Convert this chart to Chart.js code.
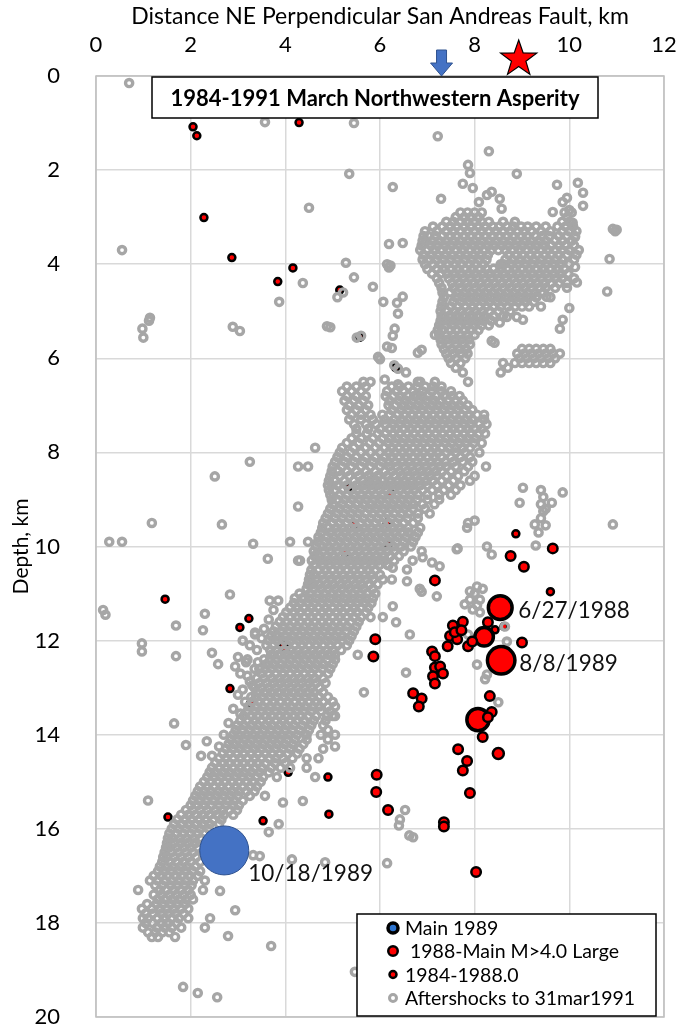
<!DOCTYPE html>
<html><head><meta charset="utf-8">
<script src="https://cdn.jsdelivr.net/npm/chart.js@4.4.0/dist/chart.umd.min.js"></script>
<style>html,body{margin:0;padding:0;background:#fff;overflow:hidden;}canvas{display:block;}</style>
</head><body>
<canvas id="c" width="678" height="1025"></canvas>
<script>
// ---------------- data ----------------
const xTicks = [0, 2, 4, 6, 8, 10, 12];
const yTicks = [0, 2, 4, 6, 8, 10, 12, 14, 16, 18, 20];
const xTitle = 'Distance NE Perpendicular San Andreas Fault, km';
const yTitle = 'Depth, km';
const chartTitle = '1984-1991 March Northwestern Asperity';

const seriesNames = ['Main 1989', ' 1988-Main M>4.0 Large', '1984-1988.0', 'Aftershocks to 31mar1991'];

// Main shock 10/18/1989
const mainX = [2.71];
const mainY = [16.46];
const mainLabel = ['10/18/1989'];

// 1988-Main M>4.0 large events
const largeX = [8.54, 8.56, 8.20, 8.07, 8.76, 9.65, 9.04, 7.16, 9.00, 7.75, 7.54, 7.48, 7.63, 7.43, 7.86, 8.28, 7.10, 7.16, 7.16, 7.27, 7.33, 7.12, 7.16, 6.70, 6.88, 6.82, 8.32, 8.36, 8.28, 8.17, 8.50, 7.65, 7.84, 7.75, 7.90, 5.93, 5.92, 6.17, 7.35, 7.35, 8.03, 5.90, 5.86, 7.58, 7.72, 7.95];
const largeY = [11.30, 12.42, 11.92, 13.68, 10.20, 10.04, 10.43, 10.72, 12.04, 11.60, 11.68, 11.90, 11.97, 12.12, 12.12, 11.61, 12.23, 12.33, 12.57, 12.55, 12.70, 12.76, 12.91, 13.12, 13.23, 13.40, 13.18, 13.52, 13.63, 14.05, 14.40, 14.31, 14.56, 14.76, 15.24, 14.85, 15.22, 15.60, 15.86, 15.95, 16.92, 11.97, 12.34, 11.82, 11.78, 12.02];
const largeMag = [4.95, 5.2, 4.6, 4.85, 4.0, 4.0, 4.0, 4.0, 4.0, 4.0, 4.0, 4.0, 4.0, 4.0, 4.0, 4.0, 4.0, 4.0, 4.0, 4.0, 4.0, 4.0, 4.0, 4.0, 4.0, 4.0, 4.0, 4.0, 4.0, 4.0, 4.1, 4.0, 4.0, 4.0, 4.0, 4.0, 4.0, 4.0, 4.0, 4.0, 4.0, 4.0, 4.0, 4.0, 4.0, 4.0];
const largeLabels = [[0, '6/27/1988'], [1, '8/8/1989']];

// 1984-1988 events
const smallX = [2.05, 2.13, 4.29, 2.28, 2.87, 4.16, 3.84, 5.15, 5.58, 6.33, 5.33, 6.23, 5.45, 6.15, 6.17, 5.26, 1.46, 3.23, 3.04, 3.95, 4.00, 2.83, 3.27, 4.06, 4.90, 1.52, 3.53, 4.92, 8.87, 9.60, 8.62, 8.43];
const smallY = [1.08, 1.27, 0.99, 3.01, 3.86, 4.08, 4.37, 4.55, 5.55, 6.20, 8.75, 8.87, 9.53, 9.50, 9.96, 10.13, 11.12, 11.53, 11.72, 12.10, 12.17, 13.02, 13.33, 14.80, 14.90, 15.75, 15.83, 15.69, 9.73, 10.96, 11.70, 11.77];

// Aftershocks: isolated events [x, depth]
const aftershockIsolated = [
[0.7,0.15],[3.57,0.98],[5.45,1.0],[7.22,1.28],[8.3,1.6],[7.86,1.89],[7.9,2.06],[5.35,2.08],[8.89,2.08],[10.18,2.27],[7.75,2.29],[9.74,2.31],[6.27,2.36],[7.96,2.38],[8.36,2.46],[10.29,2.48],[8.26,2.53],[9.95,2.59],[7.29,2.61],[8.53,2.61],[8.09,2.68],[9.86,2.68],[10.29,2.76],[4.5,2.8],[8.57,2.82],[9.65,2.89],[10.0,2.85],[10.07,3.12],[10.92,3.25],[10.97,3.3],[11.0,3.27],[10.12,3.42],[6.19,3.57],[6.48,3.55],[0.55,3.7],[10.85,3.89],[5.28,3.97],[6.15,4.0],[6.22,4.03],[6.19,4.07],[10.12,4.06],[5.45,4.28],[4.37,4.4],[10.16,4.39],[5.85,4.48],[10.8,4.58],[6.48,4.69],[9.31,4.69],[9.52,4.69],[5.1,4.7],[5.22,4.6],[3.87,4.8],[6.07,4.8],[6.36,4.82],[10.0,4.93],[6.38,5.05],[8.68,5.12],[8.89,5.12],[1.14,5.14],[1.12,5.2],[9.02,5.18],[9.86,5.18],[8.53,5.24],[4.88,5.32],[4.95,5.34],[2.89,5.33],[0.98,5.37],[6.31,5.37],[9.8,5.37],[3.04,5.42],[7.16,5.5],[6.27,5.52],[5.51,5.56],[5.6,5.52],[1.0,5.56],[8.36,5.63],[8.42,5.67],[6.15,5.75],[6.25,5.78],[6.88,5.82],[6.8,5.88],[5.96,5.97],[6.0,6.02],[6.3,6.15],[6.38,6.22],[6.1,6.45],[6.38,6.55],
[3.25,8.2],[2.51,8.51],[4.27,9.15],[2.66,9.53],[1.18,9.5],[0.28,9.9],[0.55,9.9],[3.32,9.94],[3.63,10.26],[4.31,10.3],[2.83,11.02],[3.67,11.15],[0.15,11.35],[0.2,11.45],[2.3,11.43],[2.26,11.78],[1.69,11.68],[3.36,11.83],[3.8,11.9],[0.97,12.06],[0.97,12.23],[1.69,12.33],[2.45,12.26],[2.58,12.5],[2.94,12.55],[3.17,12.46],[3.42,12.46],[3.36,11.87],[3.1,13.04],[3.25,12.87],[1.65,13.76],[1.9,14.22],[2.34,14.14],[2.22,14.45],[1.1,15.4],
[10.92,9.53],[9.86,8.85],[9.02,8.75],[8.95,9.07],[9.63,9.07],[9.27,9.53],[9.29,9.98],[8.36,10.17],[8.26,10.0],[7.64,10.04],[8.0,9.45],[7.84,9.6],[9.4,8.8],[9.45,8.95],[9.4,9.1],[9.45,9.25],[9.4,9.4],[9.5,9.55],[9.35,9.7],[9.5,9.2],
[7.62,10.06],[6.9,10.23],[7.1,10.34],[7.26,10.42],[6.15,10.38],[6.27,10.45],[6.57,10.49],[6.06,10.7],[6.57,10.74],[6.88,10.96],[7.2,11.06],[6.27,11.27],[6.06,11.5],[6.34,11.61],[6.63,11.87],[6.55,12.68],[8.05,10.85],[7.9,11.13],[8.11,11.13],[7.96,11.34],[7.79,11.23],[8.11,11.4],[8.0,11.0],[7.9,10.95],[8.05,11.25],[7.69,11.76],[7.86,11.87],[8.64,11.7],[8.68,12.02],[8.64,12.19],[8.05,12.51],[8.26,12.72],[8.22,12.82],[8.5,13.31],[8.17,10.9],
[5.05,13.6],[5.05,14.0],[5.05,14.25],[6.53,15.6],[6.42,15.8],[6.4,15.93],[6.62,16.14],[6.7,16.18],[6.15,16.73],[4.14,16.65],[4.84,16.71],[3.32,16.56],[3.46,16.58],[5.47,19.04],[3.7,18.49],[1.84,19.36],[2.15,19.49],[2.56,19.58],[2.79,18.28],[2.94,17.73],[2.62,17.32],[4.37,15.41],[3.95,15.44],[3.86,15.9],[3.65,16.07],
[3.1,12.0],[3.25,12.1],[3.4,12.2],[3.0,12.35],[3.2,12.4],[3.35,12.6],[3.05,12.7],[3.2,12.75],[3.3,12.95],[3.0,13.15],[3.15,13.3],[2.9,13.45],[3.05,13.55],[3.5,11.95],[3.55,11.75],[3.65,11.55],[3.75,11.35],[3.85,11.15],[2.8,13.75],[2.7,14.0],[2.6,14.25],[2.45,14.45],[8.2,7.2],[8.25,7.4],[8.22,7.6],[8.15,7.8],[8.1,8.0]
];

// Aftershocks: dense upper (NE) cluster, rows [depth, x, x, ...]
const aftershockRowsUpper = [
[2.9, 7.7, 7.85, 8.0, 8.15, 9.9, 10.05],
[3.0, 7.6, 7.78, 7.92, 8.08, 9.95],
[3.1, 7.4, 7.55, 7.7, 7.85, 8.0, 8.15, 8.3, 8.6, 8.85, 9.85, 10.0],
[3.2, 7.12, 7.32, 7.48, 7.62, 7.78, 7.92, 8.08, 8.22, 8.38, 8.52, 8.68, 8.82, 8.98, 9.12, 9.3, 9.5, 9.75, 9.92, 10.08],
[3.3, 6.95, 7.2, 7.4, 7.55, 7.7, 7.85, 8.0, 8.15, 8.3, 8.45, 8.6, 8.75, 8.9, 9.05, 9.2, 9.4, 9.6, 9.85, 10.0, 10.15],
[3.4, 6.92, 7.02, 7.18, 7.32, 7.48, 7.62, 7.78, 7.92, 8.08, 8.22, 8.38, 8.52, 8.68, 8.82, 8.98, 9.12, 9.28, 9.42, 9.58, 9.78, 9.95, 10.12],
[3.5, 6.9, 7.1, 7.25, 7.4, 7.55, 7.7, 7.85, 8.0, 8.15, 8.3, 8.45, 8.6, 8.75, 8.9, 9.05, 9.2, 9.35, 9.5, 9.7, 9.85, 10.05],
[3.6, 6.88, 7.08, 7.22, 7.38, 7.52, 7.68, 7.82, 7.98, 8.12, 8.28, 8.42, 8.58, 8.72, 8.88, 9.02, 9.18, 9.32, 9.48, 9.62, 9.78, 9.92, 10.1],
[3.7, 6.85, 7.0, 7.15, 7.3, 7.45, 7.6, 7.75, 7.9, 8.05, 8.2, 8.35, 8.5, 8.65, 8.8, 8.95, 9.1, 9.25, 9.4, 9.55, 9.7, 9.85, 10.0, 10.2],
[3.8, 6.92, 7.08, 7.22, 7.38, 7.52, 7.68, 7.82, 7.98, 8.12, 8.28, 8.72, 8.88, 9.02, 9.18, 9.32, 9.48, 9.62, 9.78, 9.95, 10.15],
[3.9, 6.9, 7.05, 7.2, 7.35, 7.5, 7.65, 7.8, 7.95, 8.1, 8.25, 8.65, 8.8, 8.95, 9.1, 9.25, 9.4, 9.55, 9.7, 9.85, 10.1],
[4.0, 6.95, 7.12, 7.28, 7.42, 7.58, 7.72, 7.88, 8.02, 8.18, 8.55, 8.62, 8.78, 8.92, 9.08, 9.22, 9.38, 9.52, 9.68, 9.82, 10.0],
[4.1, 7.0, 7.2, 7.35, 7.5, 7.65, 7.8, 7.95, 8.1, 8.25, 8.4, 8.55, 8.7, 8.85, 9.0, 9.15, 9.3, 9.45, 9.6, 9.75, 9.9],
[4.2, 7.1, 7.28, 7.42, 7.58, 7.72, 7.88, 8.02, 8.18, 8.32, 8.48, 8.62, 8.78, 8.92, 9.08, 9.22, 9.38, 9.52, 9.68, 9.82, 9.98],
[4.3, 7.2, 7.45, 7.6, 7.75, 7.9, 8.05, 8.2, 8.35, 8.5, 8.65, 8.8, 8.95, 9.1, 9.25, 9.4, 9.55, 9.7, 9.85, 10.1],
[4.4, 7.25, 7.52, 7.68, 7.82, 7.98, 8.12, 8.28, 8.42, 8.58, 8.72, 8.88, 9.02, 9.18, 9.32, 9.48, 9.62, 9.78, 9.95],
[4.5, 7.3, 7.55, 7.7, 7.85, 8.0, 8.15, 8.3, 8.45, 8.6, 8.75, 8.9, 9.05, 9.2, 9.35, 9.5, 9.7, 9.95],
[4.6, 7.32, 7.48, 7.62, 7.78, 7.92, 8.08, 8.22, 8.38, 8.52, 8.68, 8.82, 8.98, 9.12, 9.28, 9.45],
[4.7, 7.35, 7.6, 7.75, 7.9, 8.05, 8.2, 8.35, 8.5, 8.65, 8.8, 8.95, 9.1, 9.3, 9.6],
[4.8, 7.32, 7.55, 7.72, 7.88, 8.02, 8.18, 8.32, 8.48, 8.62, 8.78, 8.92, 9.08, 9.25],
[4.9, 7.3, 7.5, 7.65, 7.8, 7.95, 8.1, 8.25, 8.4, 8.55, 8.7, 8.85, 9.0, 9.15, 9.4],
[5.0, 7.28, 7.42, 7.58, 7.72, 7.88, 8.02, 8.18, 8.32, 8.5, 8.75],
[5.1, 7.3, 7.45, 7.6, 7.75, 7.9, 8.05, 8.2, 8.4, 8.6],
[5.2, 7.28, 7.42, 7.58, 7.72, 7.88, 8.02, 8.18, 8.35],
[5.3, 7.25, 7.4, 7.55, 7.7, 7.85, 8.0, 8.15, 8.3],
[5.4, 7.22, 7.32, 7.48, 7.62, 7.78, 7.92, 8.08],
[5.5, 7.25, 7.4, 7.55, 7.7, 7.85, 8.0],
[5.6, 7.28, 7.42, 7.58, 7.72, 7.88],
[5.7, 7.3, 7.45, 7.6, 7.75, 7.9],
[5.8, 7.35, 7.52, 7.68, 7.82, 9.0, 9.15, 9.3, 9.45, 9.6],
[5.9, 7.4, 7.55, 7.7, 7.85, 8.9, 9.05, 9.2, 9.35, 9.5, 9.65, 9.8],
[6.0, 7.45, 7.62, 7.8, 8.95, 9.1, 9.25, 9.4, 9.55, 9.7],
[6.1, 7.5, 7.7, 8.6, 8.85, 9.0, 9.15, 9.3, 9.45, 9.6],
[6.2, 7.6, 8.7],
[6.3, 6.55, 7.75, 8.55]
];

// Aftershocks: main dipping band, rows [depth, x, x, ...]
const aftershockRowsBand = [
[6.5, 5.65, 5.8, 6.8, 6.85, 7.16, 7.86],
[6.6, 5.3, 5.5, 5.7, 6.25, 6.42, 6.6, 6.78, 6.95, 7.12, 7.3],
[6.7, 5.2, 5.4, 5.6, 6.15, 6.35, 6.5, 6.7, 6.9, 7.1, 7.3, 7.5],
[6.8, 5.3, 5.5, 5.7, 6.12, 6.28, 6.42, 6.58, 6.72, 6.88, 7.02, 7.18, 7.35, 7.52, 7.68],
[6.9, 5.25, 5.45, 5.65, 6.2, 6.4, 6.55, 6.7, 6.85, 7.0, 7.15, 7.3, 7.45, 7.6, 7.75],
[7.0, 5.35, 5.55, 5.75, 6.18, 6.32, 6.48, 6.62, 6.78, 6.92, 7.08, 7.22, 7.38, 7.52, 7.68, 7.85],
[7.1, 5.3, 5.5, 5.7, 6.25, 6.45, 6.6, 6.75, 6.9, 7.05, 7.2, 7.35, 7.5, 7.65, 7.8, 7.95],
[7.2, 5.4, 5.6, 5.8, 6.05, 6.2, 6.38, 6.52, 6.68, 6.82, 6.98, 7.12, 7.28, 7.42, 7.58, 7.72, 7.88, 8.05],
[7.3, 5.35, 5.6, 5.85, 6.1, 6.3, 6.45, 6.6, 6.75, 6.9, 7.05, 7.2, 7.35, 7.5, 7.65, 7.8, 7.95, 8.2],
[7.4, 5.45, 5.7, 5.92, 6.12, 6.28, 6.42, 6.58, 6.72, 6.88, 7.02, 7.18, 7.32, 7.48, 7.62, 7.78, 7.92, 8.1],
[7.5, 5.5, 5.75, 6.0, 6.2, 6.35, 6.5, 6.65, 6.8, 6.95, 7.1, 7.25, 7.4, 7.55, 7.7, 7.85, 8.0, 8.15],
[7.6, 5.5, 5.72, 5.95, 6.12, 6.28, 6.42, 6.58, 6.72, 6.88, 7.02, 7.18, 7.32, 7.48, 7.62, 7.78, 7.92, 8.08],
[7.7, 5.4, 5.6, 5.85, 6.05, 6.2, 6.35, 6.5, 6.65, 6.8, 6.95, 7.1, 7.25, 7.4, 7.55, 7.7, 7.85, 8.0],
[7.8, 5.3, 5.55, 5.78, 5.98, 6.18, 6.32, 6.48, 6.62, 6.78, 6.92, 7.08, 7.22, 7.38, 7.52, 7.68, 7.82, 7.98],
[7.9, 4.63, 5.2, 5.45, 5.7, 5.9, 6.1, 6.25, 6.4, 6.55, 6.7, 6.85, 7.0, 7.15, 7.3, 7.45, 7.6, 7.75, 7.9],
[8.0, 5.15, 5.38, 5.6, 5.8, 6.0, 6.18, 6.32, 6.48, 6.62, 6.78, 6.92, 7.08, 7.22, 7.4, 7.6, 7.8],
[8.1, 5.1, 5.3, 5.5, 5.7, 5.9, 6.1, 6.25, 6.4, 6.55, 6.7, 6.85, 7.0, 7.15, 7.3, 7.5, 7.7, 7.9],
[8.2, 5.05, 5.25, 5.45, 5.65, 5.85, 6.05, 6.18, 6.32, 6.48, 6.62, 6.78, 6.92, 7.08, 7.22, 7.38, 7.55, 7.75, 7.95],
[8.3, 4.27, 4.48, 5.0, 5.2, 5.4, 5.6, 5.8, 6.0, 6.2, 6.35, 6.5, 6.65, 6.8, 6.95, 7.1, 7.25, 7.4, 7.6, 7.86, 8.24],
[8.4, 4.98, 5.12, 5.3, 5.5, 5.7, 5.9, 6.1, 6.25, 6.42, 6.58, 6.72, 6.88, 7.02, 7.18, 7.32, 7.5, 7.78],
[8.5, 4.95, 5.15, 5.35, 5.55, 5.75, 5.95, 6.15, 6.3, 6.45, 6.6, 6.75, 6.9, 7.05, 7.2, 7.4, 7.65, 8.0],
[8.6, 4.92, 5.05, 5.25, 5.45, 5.62, 5.78, 5.92, 6.08, 6.22, 6.38, 6.52, 6.68, 6.82, 6.98, 7.12, 7.3, 7.55, 7.9],
[8.7, 4.9, 5.1, 5.3, 5.5, 5.65, 5.8, 5.95, 6.1, 6.25, 6.4, 6.55, 6.7, 6.85, 7.0, 7.2, 7.45, 7.7],
[8.8, 4.92, 5.05, 5.22, 5.38, 5.52, 5.68, 5.82, 5.98, 6.12, 6.28, 6.42, 6.58, 6.72, 6.9, 7.1, 7.35, 7.6],
[8.9, 4.95, 5.15, 5.3, 5.45, 5.6, 5.75, 5.9, 6.05, 6.2, 6.35, 6.5, 6.65, 6.8, 7.0, 7.25, 7.5],
[9.0, 4.98, 5.1, 5.25, 5.42, 5.58, 5.72, 5.88, 6.02, 6.18, 6.32, 6.48, 6.62, 6.78, 7.0, 7.25],
[9.1, 5.0, 5.2, 5.35, 5.5, 5.65, 5.8, 5.95, 6.1, 6.25, 6.4, 6.55, 6.7, 6.9, 7.15],
[9.2, 4.95, 5.15, 5.3, 5.45, 5.6, 5.78, 5.92, 6.08, 6.22, 6.38, 6.52, 6.7, 6.95],
[9.3, 4.9, 5.1, 5.25, 5.4, 5.55, 5.7, 5.85, 6.0, 6.15, 6.3, 6.45, 6.6, 6.8, 7.05],
[9.4, 4.85, 5.05, 5.2, 5.35, 5.5, 5.65, 5.8, 5.95, 6.1, 6.25, 6.4, 6.58, 6.8],
[9.5, 4.8, 5.0, 5.15, 5.3, 5.45, 5.6, 5.75, 5.9, 6.05, 6.2, 6.35, 6.5, 6.7, 7.86],
[9.6, 4.78, 4.92, 5.08, 5.22, 5.38, 5.52, 5.68, 5.82, 5.98, 6.12, 6.28, 6.42, 6.6, 6.85],
[9.7, 4.75, 4.95, 5.1, 5.25, 5.4, 5.55, 5.7, 5.85, 6.0, 6.15, 6.3, 6.45, 6.6, 6.8],
[9.8, 4.7, 4.88, 5.02, 5.18, 5.32, 5.48, 5.62, 5.78, 5.92, 6.08, 6.22, 6.38, 6.55, 6.75],
[9.9, 4.1, 4.48, 4.69, 4.85, 5.0, 5.15, 5.3, 5.45, 5.6, 5.75, 5.9, 6.05, 6.2, 6.35, 6.5, 6.7],
[10.0, 4.65, 4.78, 4.92, 5.08, 5.22, 5.38, 5.52, 5.68, 5.82, 5.98, 6.12, 6.28, 6.45, 6.65],
[10.1, 4.6, 4.8, 4.95, 5.1, 5.25, 5.4, 5.55, 5.7, 5.85, 6.0, 6.15, 6.3, 6.5, 6.88],
[10.2, 4.62, 4.72, 4.88, 5.02, 5.18, 5.32, 5.48, 5.62, 5.78, 5.92, 6.08, 6.22, 6.4],
[10.3, 4.27, 4.56, 4.75, 4.9, 5.05, 5.2, 5.35, 5.5, 5.65, 5.8, 5.95, 6.1, 6.3, 6.69],
[10.4, 4.6, 4.78, 4.92, 5.08, 5.22, 5.38, 5.52, 5.68, 5.82, 5.98, 6.18],
[10.5, 4.55, 4.7, 4.85, 5.0, 5.15, 5.3, 5.45, 5.6, 5.75, 5.9],
[10.6, 4.52, 4.62, 4.78, 4.92, 5.08, 5.22, 5.38, 5.52, 5.68, 5.82, 6.0],
[10.7, 4.5, 4.65, 4.8, 4.95, 5.1, 5.25, 5.4, 5.55, 5.7, 5.85, 6.25],
[10.8, 4.48, 4.58, 4.72, 4.88, 5.02, 5.18, 5.32, 5.48, 5.62, 5.78, 5.95],
[10.9, 4.45, 4.6, 4.75, 4.9, 5.05, 5.2, 5.35, 5.5, 5.65, 5.85, 6.84],
[11.0, 4.3, 4.52, 4.68, 4.82, 4.98, 5.12, 5.28, 5.42, 5.58, 5.72, 5.9],
[11.1, 4.2, 4.35, 4.5, 4.65, 4.8, 4.95, 5.1, 5.25, 5.4, 5.55, 5.7, 5.85],
[11.2, 4.18, 4.32, 4.48, 4.62, 4.78, 4.92, 5.08, 5.22, 5.38, 5.52, 5.68, 5.82],
[11.3, 4.1, 4.25, 4.4, 4.55, 4.7, 4.85, 5.0, 5.15, 5.3, 5.45, 5.6, 5.75],
[11.4, 4.02, 4.18, 4.32, 4.48, 4.62, 4.78, 4.92, 5.08, 5.22, 5.38, 5.52, 5.7],
[11.5, 3.95, 4.1, 4.25, 4.4, 4.55, 4.7, 4.85, 5.0, 5.15, 5.3, 5.45, 5.6, 5.8],
[11.6, 3.88, 4.02, 4.18, 4.32, 4.48, 4.62, 4.78, 4.92, 5.08, 5.22, 5.38, 5.55],
[11.7, 3.8, 3.95, 4.1, 4.25, 4.4, 4.55, 4.7, 4.85, 5.0, 5.15, 5.3, 5.5],
[11.8, 3.75, 3.92, 4.08, 4.22, 4.38, 4.52, 4.68, 4.82, 4.98, 5.12, 5.28, 5.45],
[11.9, 3.7, 3.85, 4.0, 4.15, 4.3, 4.45, 4.6, 4.75, 4.9, 5.05, 5.2, 5.4],
[12.0, 3.65, 3.82, 3.98, 4.12, 4.28, 4.42, 4.58, 4.72, 4.88, 5.02, 5.2, 5.35],
[12.1, 3.6, 3.75, 3.9, 4.05, 4.2, 4.35, 4.5, 4.65, 4.8, 4.95, 5.1, 5.3],
[12.2, 3.68, 3.82, 3.98, 4.12, 4.28, 4.42, 4.58, 4.72, 4.88, 5.02, 5.18],
[12.3, 3.7, 3.85, 4.0, 4.15, 4.3, 4.45, 4.6, 4.75, 4.9, 5.05, 5.53],
[12.4, 3.55, 3.68, 3.82, 3.98, 4.12, 4.28, 4.42, 4.58, 4.72, 4.88, 5.05],
[12.5, 3.6, 3.75, 3.9, 4.05, 4.2, 4.35, 4.5, 4.65, 4.8, 5.0],
[12.6, 3.45, 3.58, 3.72, 3.88, 4.02, 4.18, 4.32, 4.48, 4.62, 4.78, 4.95],
[12.7, 3.5, 3.65, 3.8, 3.95, 4.1, 4.25, 4.4, 4.55, 4.7, 4.9],
[12.8, 3.4, 3.55, 3.72, 3.88, 4.02, 4.18, 4.32, 4.48, 4.62, 4.8],
[12.9, 3.45, 3.6, 3.75, 3.9, 4.05, 4.2, 4.35, 4.5, 4.65, 4.85],
[13.0, 3.35, 3.5, 3.65, 3.8, 3.95, 4.1, 4.25, 4.4, 4.55, 4.72],
[13.1, 3.4, 3.55, 3.7, 3.85, 4.0, 4.15, 4.3, 4.45, 4.6, 4.8, 5.66],
[13.2, 3.28, 3.38, 3.52, 3.68, 3.82, 3.98, 4.12, 4.28, 4.42, 4.58, 4.72, 4.9],
[13.3, 3.3, 3.45, 3.6, 3.75, 3.9, 4.05, 4.2, 4.35, 4.5, 4.65, 4.8, 5.0],
[13.4, 3.22, 3.38, 3.52, 3.68, 3.82, 3.98, 4.12, 4.28, 4.42, 4.58, 4.72, 4.9, 5.05],
[13.5, 3.2, 3.35, 3.5, 3.65, 3.8, 3.95, 4.1, 4.25, 4.4, 4.55, 4.75, 4.95],
[13.6, 3.12, 3.28, 3.42, 3.58, 3.72, 3.88, 4.02, 4.18, 4.32, 4.48, 4.65, 4.88, 5.0],
[13.7, 3.05, 3.2, 3.35, 3.5, 3.65, 3.8, 3.95, 4.1, 4.25, 4.4, 4.6, 4.85],
[13.8, 2.98, 3.12, 3.28, 3.42, 3.58, 3.72, 3.88, 4.02, 4.18, 4.35, 4.55, 4.8],
[13.9, 2.95, 3.1, 3.25, 3.4, 3.55, 3.7, 3.85, 4.0, 4.15, 4.3, 4.5, 4.9],
[14.0, 2.9, 3.02, 3.18, 3.32, 3.48, 3.62, 3.78, 3.92, 4.08, 4.25, 4.45, 4.75],
[14.1, 2.85, 3.0, 3.15, 3.3, 3.45, 3.6, 3.75, 3.9, 4.05, 4.2, 4.45, 4.9],
[14.2, 2.8, 2.92, 3.08, 3.22, 3.38, 3.52, 3.68, 3.82, 3.98, 4.15, 4.38],
[14.3, 2.75, 2.9, 3.05, 3.2, 3.35, 3.5, 3.65, 3.8, 3.95, 4.1, 4.3, 4.8],
[14.4, 2.68, 2.82, 2.98, 3.12, 3.28, 3.42, 3.58, 3.72, 3.88, 4.05, 4.25],
[14.5, 2.6, 2.75, 2.9, 3.05, 3.2, 3.35, 3.5, 3.65, 3.8, 3.95, 4.15, 4.45, 4.7],
[14.6, 2.52, 2.68, 2.82, 2.98, 3.12, 3.28, 3.42, 3.58, 3.78, 4.0],
[14.7, 2.45, 2.6, 2.75, 2.9, 3.05, 3.2, 3.35, 3.5, 3.7, 3.9, 4.1, 4.45],
[14.8, 2.4, 2.52, 2.68, 2.82, 2.98, 3.12, 3.28, 3.45, 3.65],
[14.9, 2.35, 2.5, 2.65, 2.8, 2.95, 3.1, 3.25, 3.4, 3.53, 3.82, 4.63],
[15.0, 2.28, 2.42, 2.58, 2.72, 2.88, 3.02, 3.18, 3.32, 3.48],
[15.1, 2.2, 2.35, 2.5, 2.65, 2.8, 2.95, 3.1, 3.25, 3.4],
[15.2, 2.15, 2.28, 2.42, 2.58, 2.72, 2.88, 3.02, 3.18, 3.35],
[15.3, 2.1, 2.25, 2.4, 2.55, 2.7, 2.85, 3.0, 3.25, 3.57],
[15.4, 2.05, 2.18, 2.32, 2.48, 2.62, 2.78, 2.92, 3.1],
[15.5, 2.0, 2.15, 2.3, 2.45, 2.6, 2.75, 2.9, 3.02],
[15.6, 1.9, 2.05, 2.2, 2.35, 2.52, 2.68, 2.82, 2.98],
[15.7, 1.8, 1.95, 2.1, 2.25, 2.4, 2.55, 2.7, 2.9],
[15.8, 1.72, 1.88, 2.02, 2.18, 2.32, 2.48, 2.65],
[15.9, 1.65, 1.8, 1.95, 2.1, 2.25, 2.4, 2.6],
[16.0, 1.6, 1.75, 1.9, 2.05, 2.2, 2.38],
[16.1, 1.55, 1.7, 1.85, 2.0, 2.15, 2.3, 2.5],
[16.2, 1.52, 1.62, 1.78, 1.92, 2.08, 2.22],
[16.3, 1.5, 1.65, 1.8, 1.95, 2.1, 2.3],
[16.4, 1.48, 1.55, 1.7, 1.85, 2.0, 2.15],
[16.5, 1.45, 1.6, 1.75, 1.9, 2.05, 2.25],
[16.6, 1.42, 1.5, 1.65, 1.8, 1.95, 2.12],
[16.7, 1.4, 1.55, 1.7, 1.85, 2.0, 2.2],
[16.8, 1.35, 1.48, 1.62, 1.78, 1.92, 2.1],
[16.9, 1.31, 1.45, 1.6, 1.75, 1.9, 2.05, 2.2],
[17.0, 1.22, 1.38, 1.52, 1.68, 1.82, 1.98, 2.15],
[17.1, 1.14, 1.3, 1.45, 1.6, 1.75, 1.9, 2.05, 2.3],
[17.2, 1.25, 1.4, 1.58, 1.72, 1.88, 2.02],
[17.3, 0.89, 1.35, 1.5, 1.65, 1.8, 1.95, 2.26],
[17.4, 1.22, 1.38, 1.55, 1.7, 1.85, 2.0],
[17.5, 1.3, 1.45, 1.6, 1.75, 1.9, 2.05],
[17.6, 1.08, 1.28, 1.42, 1.58, 1.72, 1.88],
[17.7, 0.97, 1.18, 1.35, 1.5, 1.65, 1.8, 1.95],
[17.8, 1.05, 1.2, 1.38, 1.52, 1.68, 1.85],
[17.9, 0.99, 1.1, 1.3, 1.45, 1.6, 1.75, 1.95, 2.41],
[18.0, 1.05, 1.2, 1.38, 1.52, 1.7],
[18.1, 0.99, 1.29, 1.45, 1.6, 1.8, 2.3],
[18.2, 1.1, 1.25, 1.4, 1.55],
[18.3, 1.18, 1.31, 1.67]
];

// Markers above the plot: fault trace arrow and star
const faultArrowKm = 7.3;
const starKm = 8.93;

// ---------------- build ----------------
function rowsToPoints(rows) {
  const pts = [];
  rows.forEach(r => { for (let i = 1; i < r.length; i++) pts.push({x: r[i], y: r[0]}); });
  return pts;
}
const aftershockPoints = aftershockIsolated.map(p => ({x: p[0], y: p[1]}))
  .concat(rowsToPoints(aftershockRowsUpper), rowsToPoints(aftershockRowsBand));
const mainPoints = mainX.map((v, i) => ({x: v, y: mainY[i]}));
const largePoints = largeX.map((v, i) => ({x: v, y: largeY[i]}));
const smallPoints = smallX.map((v, i) => ({x: v, y: smallY[i]}));

const FONT = 'Lato';
const magRadius = m => 4.75 + (m - 4) * 7.5;

const datasets = [
  {label: seriesNames[0], data: mainPoints, order: 0, pointRadius: 24.5, backgroundColor: '#4472c4', borderColor: '#2f528f', borderWidth: 1,
   legendMarker: {r: 5, bw: 3.5, fill: '#2e75d0', stroke: '#000'}},
  {label: seriesNames[1], data: largePoints, order: 1,
   pointRadius: c => magRadius(largeMag[c.dataIndex]),
   borderWidth: c => largeMag[c.dataIndex] > 4.5 ? 3.5 : 2.5,
   backgroundColor: '#ff0000', borderColor: '#000',
   legendMarker: {r: 4.75, bw: 2.5, fill: '#ff0000', stroke: '#000'}},
  {label: seriesNames[2], data: smallPoints, order: 3, pointRadius: 3.5, borderWidth: 2.5, backgroundColor: '#ff0000', borderColor: '#000',
   legendMarker: {r: 3.5, bw: 2.5, fill: '#ff0000', stroke: '#000'}},
  {label: seriesNames[3], data: aftershockPoints, order: 2, pointRadius: 3.6, borderWidth: 3.4, backgroundColor: 'rgba(255,255,255,0)', borderColor: '#a6a6a6',
   legendMarker: {r: 3.5, bw: 3, fill: '#fff', stroke: '#a6a6a6'}}
];

const overlay = {
  id: 'overlay',
  afterDraw(chart) {
    const {ctx, chartArea: ca, scales: {x, y}} = chart;
    ctx.save();
    // plot border
    ctx.strokeStyle = '#bfbfbf'; ctx.lineWidth = 1.5;
    ctx.strokeRect(ca.left, ca.top, ca.right - ca.left, ca.bottom - ca.top);

    // title box
    const tb = {l: ca.left + 56, t: ca.top + 1, r: ca.left + 502, b: ca.top + 42};
    ctx.fillStyle = '#fff';
    ctx.fillRect(tb.l, tb.t, tb.r - tb.l, tb.b - tb.t);
    ctx.strokeStyle = '#000'; ctx.lineWidth = 1.5;
    ctx.strokeRect(tb.l, tb.t, tb.r - tb.l, tb.b - tb.t);
    let fs = 22;
    ctx.font = `bold ${fs}px ${FONT}`;
    while (ctx.measureText(chartTitle).width > 428 && fs > 10) { fs -= 0.5; ctx.font = `bold ${fs}px ${FONT}`; }
    ctx.fillStyle = '#000'; ctx.textAlign = 'center'; ctx.textBaseline = 'middle';
    ctx.fillText(chartTitle, (tb.l + tb.r) / 2, (tb.t + tb.b) / 2 + 1);

    // event labels
    ctx.font = `22.5px ${FONT}`; ctx.fillStyle = '#111'; ctx.textAlign = 'left';
    largeLabels.forEach(([i, txt]) => {
      ctx.fillText(txt, x.getPixelForValue(largeX[i]) + 18, y.getPixelForValue(largeY[i]) + 3);
    });
    mainLabel.forEach((txt, i) => {
      ctx.fillText(txt, x.getPixelForValue(mainX[i]) + 24, y.getPixelForValue(mainY[i]) + 23);
    });

    // fault arrow
    const ax = x.getPixelForValue(faultArrowKm);
    ctx.beginPath();
    ctx.moveTo(ax - 5, ca.top - 26); ctx.lineTo(ax + 5, ca.top - 26); ctx.lineTo(ax + 5, ca.top - 13);
    ctx.lineTo(ax + 11, ca.top - 13); ctx.lineTo(ax, ca.top); ctx.lineTo(ax - 11, ca.top - 13);
    ctx.lineTo(ax - 5, ca.top - 13); ctx.closePath();
    ctx.fillStyle = '#4472c4'; ctx.fill(); ctx.strokeStyle = '#2f528f'; ctx.lineWidth = 1; ctx.stroke();

    // star
    const sx = x.getPixelForValue(starKm), sy = ca.top - 17, R = 19, rIn = 7.6;
    ctx.beginPath();
    for (let k = 0; k < 10; k++) {
      const rad = k % 2 === 0 ? R : rIn;
      const ang = -Math.PI / 2 + k * Math.PI / 5;
      const px = sx + rad * Math.cos(ang), py = sy + rad * Math.sin(ang);
      if (k === 0) ctx.moveTo(px, py); else ctx.lineTo(px, py);
    }
    ctx.closePath();
    ctx.fillStyle = '#ff0000'; ctx.fill(); ctx.strokeStyle = '#000'; ctx.lineWidth = 1.2; ctx.stroke();

    // legend box
    const lb = {l: ca.right - 307, t: ca.bottom - 103, r: ca.right - 8, b: ca.bottom - 1};
    ctx.fillStyle = '#fff'; ctx.fillRect(lb.l, lb.t, lb.r - lb.l, lb.b - lb.t);
    ctx.strokeStyle = '#000'; ctx.lineWidth = 1.5; ctx.strokeRect(lb.l, lb.t, lb.r - lb.l, lb.b - lb.t);
    ctx.font = `19.5px ${FONT}`; ctx.textBaseline = 'middle'; ctx.textAlign = 'left';
    const rowY = [14, 37, 60.5, 84];
    chart.data.datasets.forEach((ds, i) => {
      const m = ds.legendMarker, cy = lb.t + rowY[i], cx = lb.l + 36;
      ctx.beginPath(); ctx.arc(cx, cy, m.r, 0, Math.PI * 2);
      ctx.fillStyle = m.fill; ctx.fill(); ctx.lineWidth = m.bw; ctx.strokeStyle = m.stroke; ctx.stroke();
      ctx.fillStyle = '#000';
      ctx.fillText(ds.label, lb.l + 48, cy + 1);
    });
    ctx.restore();
  }
};

new Chart(document.getElementById('c'), {
  type: 'scatter',
  data: {datasets},
  options: {
    responsive: false, animation: false, devicePixelRatio: 1,
    layout: {autoPadding: false, padding: {top: 0, right: 14, bottom: 8, left: 0}},
    plugins: {legend: {display: false}, tooltip: {enabled: false}},
    elements: {point: {hoverRadius: 0}},
    scales: {
      x: {
        type: 'linear', position: 'top', min: 0, max: 12,
        afterBuildTicks: s => { s.ticks = xTicks.map(v => ({value: v})); },
        afterFit: s => { s.height = 76; s.paddingLeft = 0; s.paddingRight = 0; },
        ticks: {font: {family: FONT, size: 22}, color: '#000', padding: 18},
        grid: {color: '#d9d9d9', lineWidth: 1.5, drawTicks: false},
        border: {display: false},
        title: {display: true, text: xTitle, color: '#000', font: {family: FONT, size: 23}, padding: {top: 3, bottom: 0}}
      },
      y: {
        type: 'linear', reverse: true, min: 0, max: 20,
        afterBuildTicks: s => { s.ticks = yTicks.map(v => ({value: v})); },
        afterFit: s => { s.width = 96; s.paddingTop = 0; s.paddingBottom = 0; },
        ticks: {font: {family: FONT, size: 22}, color: '#000', padding: 36},
        grid: {color: '#d9d9d9', lineWidth: 1.5, drawTicks: false},
        border: {display: false},
        title: {display: true, text: yTitle, color: '#000', font: {family: FONT, size: 21}, padding: {top: 9, bottom: 0}}
      }
    }
  },
  plugins: [overlay]
});
</script>
</body></html>
